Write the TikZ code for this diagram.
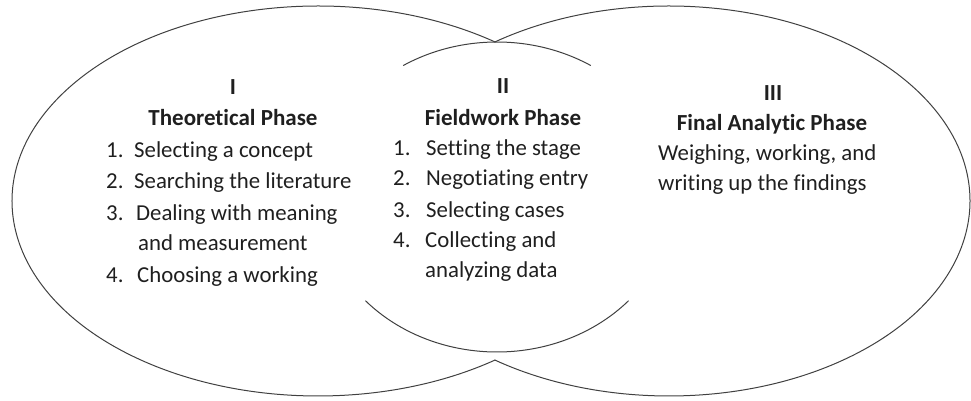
\documentclass[tikz,border=0pt]{standalone}
\usepackage{fontspec}
\setmainfont[Ligatures=NoCommon]{Carlito}
\begin{document}
\begin{tikzpicture}[x=1pt,y=1pt,
  outline/.style={draw=black!75,line width=1pt},
  txt/.style={inner sep=0pt,text=black!88,font=\fontsize{22.8}{27}\selectfont},
  head/.style={txt,anchor=base,font=\fontsize{23}{27}\selectfont\bfseries},
  item/.style={txt,anchor=base west}]
\useasboundingbox (0,0) rectangle (971,400);
% left ellipse (phase I), open towards the middle
\draw[outline] (318,199) ++(54.6:306 and 195)
  arc[start angle=54.6,end angle=305.4,x radius=306,y radius=195];
% right ellipse (phase III), open towards the middle
\draw[outline] (669,199) ++(125.4:301 and 195)
  arc[start angle=125.4,end angle=-125.4,x radius=301,y radius=195];
% middle ellipse (phase II): top and bottom arcs only
\draw[outline] (497,203) ++(58:177 and 155)
  arc[start angle=58,end angle=122,x radius=177,y radius=155];
\draw[outline] (497,203) ++(222:177 and 155)
  arc[start angle=222,end angle=318,x radius=177,y radius=155];

% phase I
\node[head] (p1num) at (233,306) {I};
\node[head] (p1head) at (233,275) {Theoretical Phase};
\node[item] (p1n1) at (106,243) {1.};
\node[item] (p1t1) at (134,243) {Selecting a concept};
\node[item] (p1n2) at (106,212) {2.};
\node[item] (p1t2) at (134,212) {Searching the literature};
\node[item] (p1n3) at (106,180) {3.};
\node[item] (p1t3) at (136,180) {Dealing with meaning};
\node[item] (p1t3b) at (138,150) {and measurement};
\node[item] (p1n4) at (106,118) {4.};
\node[item] (p1t4) at (137,118) {Choosing a working};

% phase II
\node[head] (p2num) at (503,307) {II};
\node[head] (p2head) at (503,275) {Fieldwork Phase};
\node[item] (p2n1) at (393,245) {1.};
\node[item] (p2t1) at (426,245) {Setting the stage};
\node[item] (p2n2) at (393,215) {2.};
\node[item] (p2t2) at (426,215) {Negotiating entry};
\node[item] (p2n3) at (393,183) {3.};
\node[item] (p2t3) at (426,183) {Selecting cases};
\node[item] (p2n4) at (393,153) {4.};
\node[item] (p2t4) at (425,153) {Collecting and};
\node[item] (p2t4b) at (425,123) {analyzing data};

% phase III
\node[head] (p3num) at (773,300) {III};
\node[head] (p3head) at (772,270) {Final Analytic Phase};
\node[item] (p3t1) at (658,240) {Weighing, working, and};
\node[item] (p3t2) at (658,210) {writing up the findings};
\end{tikzpicture}
\end{document}
